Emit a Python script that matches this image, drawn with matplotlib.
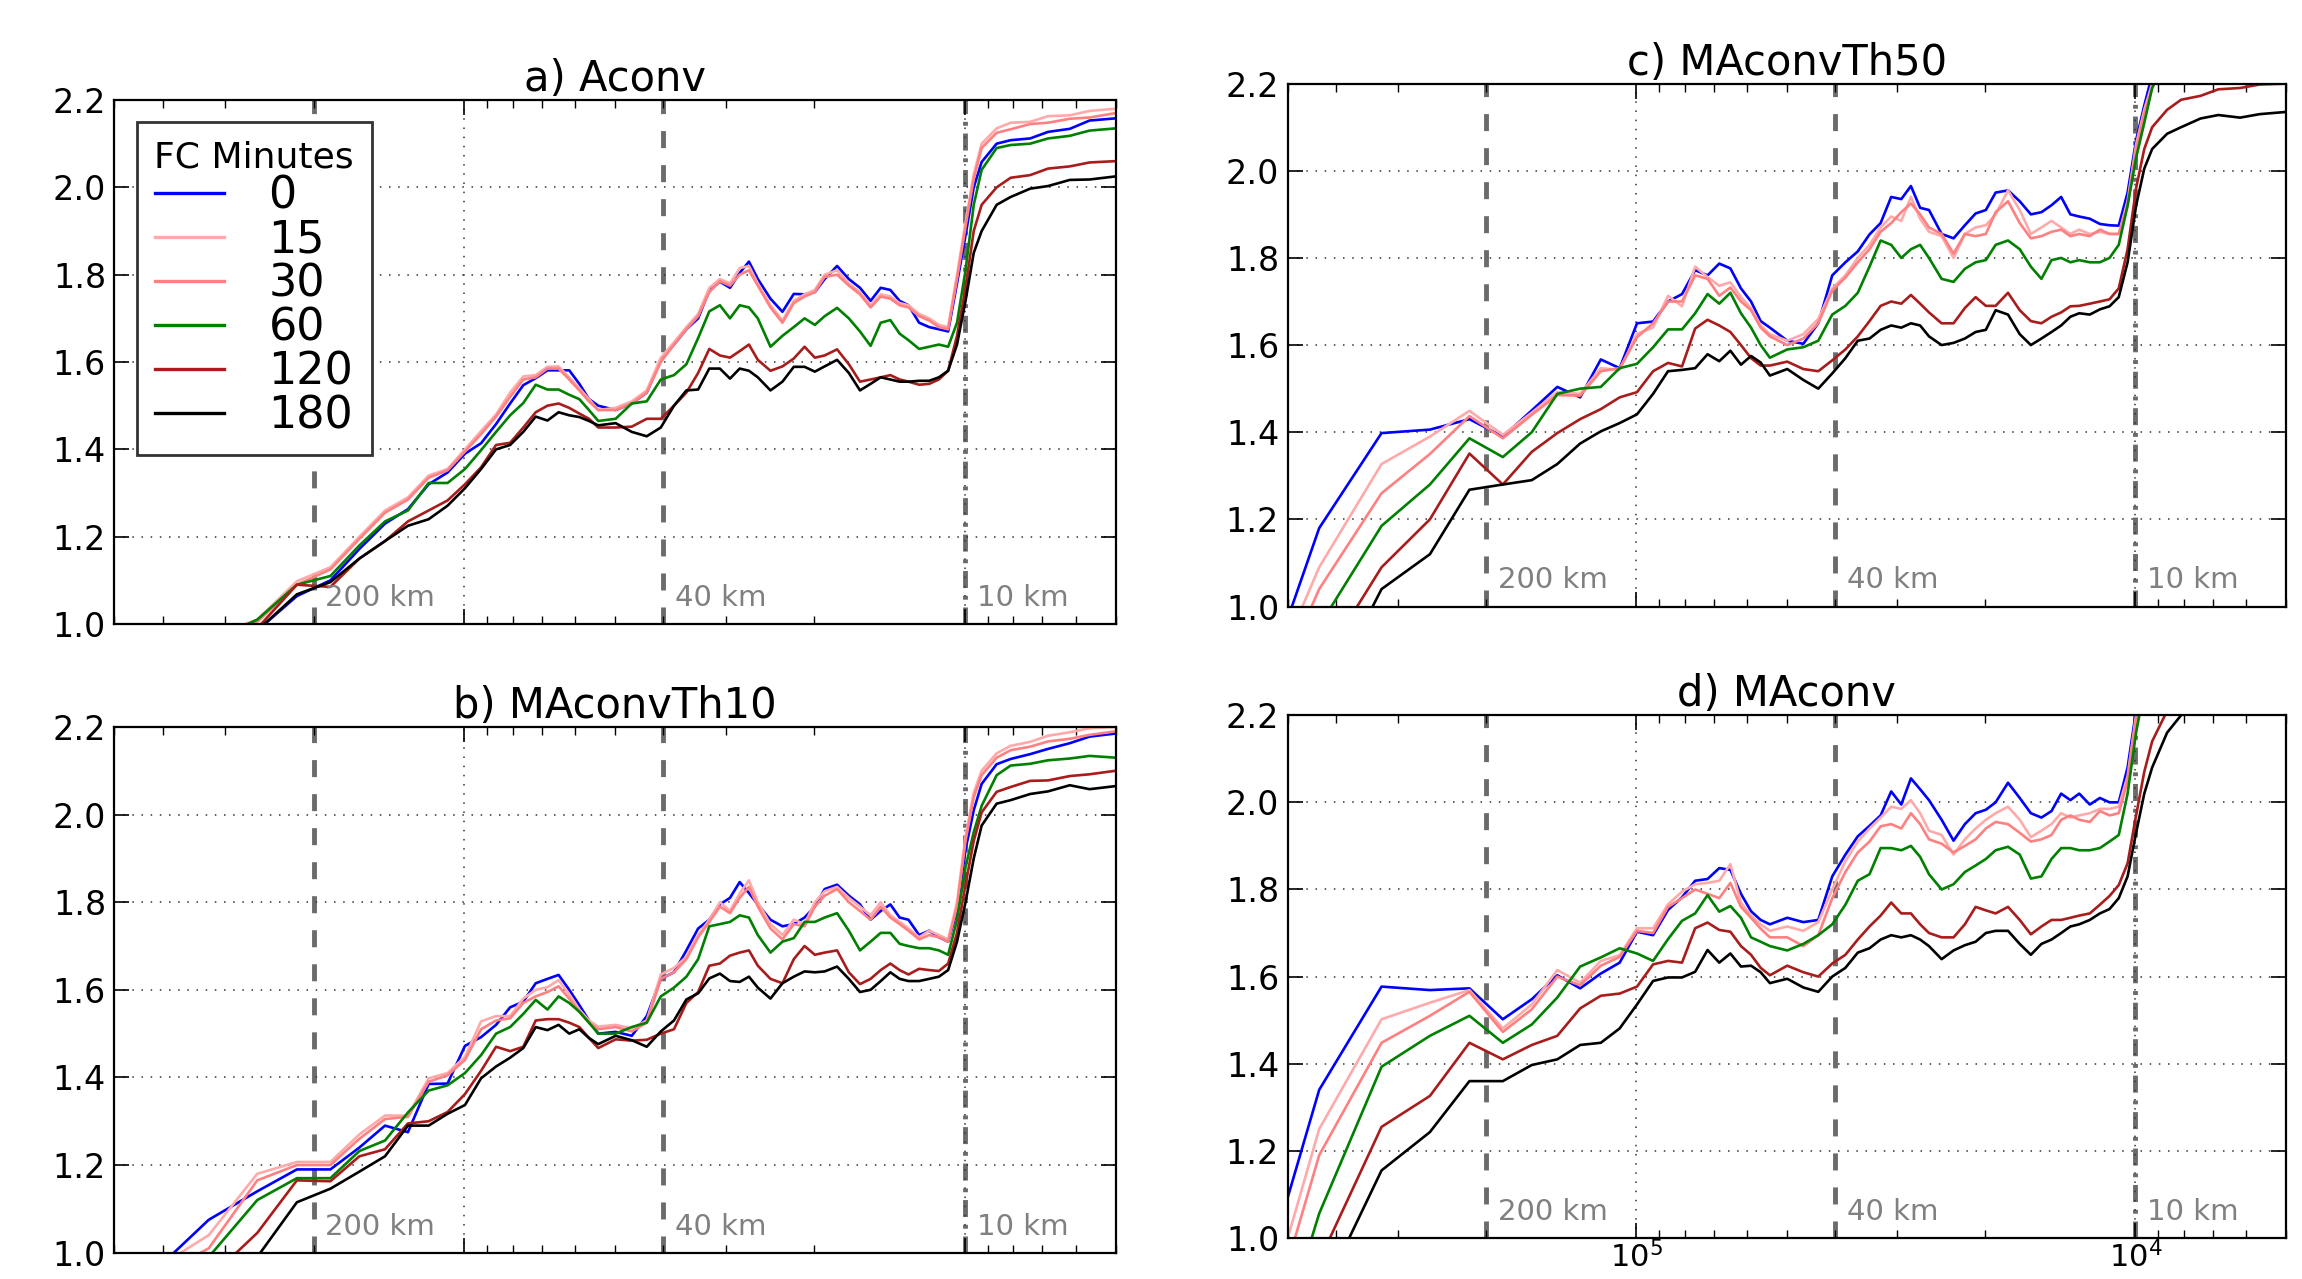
import numpy as np
import matplotlib
matplotlib.use("Agg")
import matplotlib.pyplot as plt
from matplotlib.ticker import NullFormatter

# --- data -------------------------------------------------------------
# spectral wavenumber index (domain of 1296 km -> wavelength = 1296 km / k)
wavenumber = [2, 3, 4, 5, 6, 7, 8, 9, 10, 11, 12, 13, 14, 15, 16, 17, 18, 19, 20, 21, 22, 23, 24,
              26, 28, 30, 32, 34, 36, 38, 40, 42, 44, 46, 48, 50,
              53, 56, 59, 62, 65, 68,
              72, 76, 80, 84, 88, 92, 96, 100,
              105, 110, 115, 120, 125, 130, 135, 140,
              150, 160, 175, 190, 210, 230, 259]
domain_km = 1296.0

fc_minutes = ["0", "15", "30", "60", "120", "180"]
line_colors = ["#0000ff", "#ffaaaa", "#ff8080", "#008000", "#a81c1c", "#000000"]
panel_titles = ["a) Aconv", "b) MAconvTh10", "c) MAconvTh50", "d) MAconv"]

y_ticks = [1.0, 1.2, 1.4, 1.6, 1.8, 2.0, 2.2]
scale_marks_km = [200, 40, 10]
scale_labels = ["200 km", "40 km", "10 km"]

# a) Aconv
aconv_0 = [0.80, 0.88, 0.94, 0.985, 1.064, 1.10, 1.172, 1.23, 1.263, 1.32, 1.347, 1.39, 1.414, 1.458, 1.505, 1.547, 1.563, 1.581, 1.581, 1.581, 1.55, 1.515, 1.50,
           1.49, 1.505, 1.53, 1.605, 1.64, 1.675, 1.70, 1.764, 1.784, 1.77, 1.804, 1.83, 1.79,
           1.745, 1.715, 1.756, 1.755, 1.76, 1.79,
           1.82, 1.79, 1.77, 1.74, 1.77, 1.765, 1.74, 1.73,
           1.69, 1.68, 1.675, 1.67, 1.78, 1.89, 2.00, 2.058,
           2.10, 2.108, 2.112, 2.127, 2.134, 2.153, 2.158]
aconv_15 = [0.85, 0.92, 0.97, 1.01, 1.098, 1.13, 1.20, 1.26, 1.29, 1.34, 1.355, 1.40, 1.442, 1.48, 1.53, 1.567, 1.57, 1.589, 1.59, 1.565, 1.54, 1.515, 1.49,
            1.495, 1.51, 1.535, 1.61, 1.645, 1.68, 1.71, 1.77, 1.79, 1.78, 1.815, 1.82, 1.78,
            1.73, 1.695, 1.74, 1.755, 1.765, 1.80,
            1.81, 1.78, 1.76, 1.73, 1.755, 1.75, 1.735, 1.73,
            1.71, 1.70, 1.685, 1.68, 1.80, 1.92, 2.03, 2.10,
            2.135, 2.148, 2.15, 2.163, 2.165, 2.175, 2.18]
aconv_30 = [0.84, 0.91, 0.965, 1.005, 1.09, 1.125, 1.195, 1.255, 1.285, 1.335, 1.352, 1.395, 1.435, 1.475, 1.52, 1.56, 1.565, 1.585, 1.585, 1.56, 1.535, 1.51, 1.49,
            1.49, 1.505, 1.53, 1.60, 1.64, 1.675, 1.705, 1.76, 1.785, 1.775, 1.80, 1.81, 1.775,
            1.725, 1.69, 1.735, 1.75, 1.76, 1.795,
            1.80, 1.775, 1.755, 1.725, 1.75, 1.745, 1.73, 1.725,
            1.705, 1.695, 1.68, 1.675, 1.79, 1.91, 2.02, 2.09,
            2.125, 2.133, 2.145, 2.148, 2.157, 2.16, 2.17]
aconv_60 = [0.84, 0.91, 0.96, 1.01, 1.09, 1.11, 1.18, 1.235, 1.26, 1.323, 1.323, 1.355, 1.398, 1.44, 1.478, 1.506, 1.548, 1.537, 1.537, 1.525, 1.515, 1.49, 1.465,
            1.47, 1.505, 1.51, 1.56, 1.57, 1.595, 1.655, 1.716, 1.73, 1.70, 1.73, 1.725, 1.70,
            1.635, 1.66, 1.68, 1.70, 1.685, 1.705,
            1.724, 1.70, 1.67, 1.637, 1.69, 1.696, 1.665, 1.65,
            1.63, 1.635, 1.64, 1.635, 1.69, 1.81, 1.96, 2.04,
            2.09, 2.097, 2.10, 2.112, 2.118, 2.13, 2.135]
aconv_120 = [0.82, 0.90, 0.95, 0.99, 1.09, 1.085, 1.15, 1.19, 1.235, 1.26, 1.283, 1.32, 1.359, 1.41, 1.415, 1.45, 1.485, 1.50, 1.505, 1.495, 1.482, 1.47, 1.45,
             1.45, 1.452, 1.47, 1.47, 1.50, 1.53, 1.575, 1.63, 1.615, 1.61, 1.625, 1.64, 1.605,
             1.58, 1.59, 1.608, 1.635, 1.61, 1.615,
             1.629, 1.595, 1.555, 1.56, 1.565, 1.57, 1.56, 1.555,
             1.548, 1.55, 1.56, 1.58, 1.66, 1.77, 1.90, 1.96,
             2.00, 2.022, 2.028, 2.043, 2.048, 2.057, 2.06]
aconv_180 = [0.80, 0.88, 0.94, 0.985, 1.068, 1.096, 1.15, 1.19, 1.225, 1.24, 1.271, 1.311, 1.355, 1.40, 1.41, 1.44, 1.475, 1.466, 1.485, 1.478, 1.474, 1.465, 1.455,
             1.46, 1.44, 1.43, 1.45, 1.50, 1.535, 1.537, 1.585, 1.585, 1.562, 1.585, 1.58, 1.565,
             1.535, 1.555, 1.589, 1.589, 1.578, 1.59,
             1.605, 1.575, 1.535, 1.55, 1.565, 1.56, 1.555, 1.555,
             1.557, 1.557, 1.565, 1.58, 1.64, 1.74, 1.85, 1.90,
             1.96, 1.978, 1.997, 2.003, 2.017, 2.018, 2.025]

# b) MAconvTh10
th10_0 = [0.80, 0.94, 1.075, 1.14, 1.19, 1.19, 1.24, 1.29, 1.275, 1.385, 1.386, 1.472, 1.492, 1.52, 1.56, 1.573, 1.615, 1.625, 1.634, 1.60, 1.565, 1.53, 1.50,
          1.504, 1.495, 1.54, 1.625, 1.64, 1.69, 1.74, 1.76, 1.795, 1.81, 1.846, 1.821, 1.795,
          1.76, 1.745, 1.75, 1.765, 1.79, 1.83,
          1.84, 1.815, 1.795, 1.76, 1.78, 1.795, 1.765, 1.76,
          1.725, 1.735, 1.72, 1.71, 1.78, 1.92, 2.01, 2.07,
          2.115, 2.127, 2.138, 2.15, 2.163, 2.178, 2.185]
th10_15 = [0.82, 0.95, 1.04, 1.18, 1.207, 1.207, 1.27, 1.313, 1.313, 1.398, 1.41, 1.447, 1.528, 1.54, 1.54, 1.58, 1.60, 1.606, 1.622, 1.59, 1.555, 1.53, 1.516,
           1.52, 1.512, 1.53, 1.635, 1.65, 1.675, 1.725, 1.76, 1.80, 1.78, 1.82, 1.85, 1.80,
           1.75, 1.725, 1.76, 1.75, 1.80, 1.825,
           1.835, 1.81, 1.79, 1.77, 1.80, 1.77, 1.755, 1.74,
           1.72, 1.735, 1.725, 1.715, 1.80, 1.95, 2.05, 2.10,
           2.14, 2.157, 2.166, 2.18, 2.188, 2.197, 2.20]
th10_30 = [0.80, 0.93, 1.01, 1.165, 1.20, 1.20, 1.26, 1.305, 1.31, 1.39, 1.405, 1.44, 1.51, 1.53, 1.535, 1.57, 1.585, 1.595, 1.608, 1.58, 1.55, 1.525, 1.51,
           1.515, 1.505, 1.525, 1.625, 1.64, 1.67, 1.72, 1.755, 1.79, 1.775, 1.81, 1.835, 1.79,
           1.74, 1.715, 1.75, 1.745, 1.79, 1.815,
           1.83, 1.80, 1.78, 1.76, 1.79, 1.765, 1.75, 1.735,
           1.715, 1.725, 1.72, 1.71, 1.79, 1.94, 2.04, 2.09,
           2.13, 2.147, 2.155, 2.167, 2.173, 2.182, 2.19]
th10_60 = [0.75, 0.88, 0.99, 1.12, 1.17, 1.17, 1.232, 1.256, 1.32, 1.37, 1.382, 1.41, 1.451, 1.50, 1.515, 1.545, 1.577, 1.555, 1.585, 1.57, 1.55, 1.525, 1.50,
           1.50, 1.515, 1.525, 1.585, 1.605, 1.63, 1.67, 1.745, 1.75, 1.755, 1.77, 1.765, 1.725,
           1.685, 1.71, 1.718, 1.755, 1.755, 1.765,
           1.775, 1.735, 1.69, 1.71, 1.73, 1.73, 1.705, 1.70,
           1.695, 1.695, 1.69, 1.68, 1.76, 1.88, 1.96, 2.02,
           2.09, 2.112, 2.116, 2.124, 2.128, 2.134, 2.13]
th10_120 = [0.70, 0.84, 0.94, 1.045, 1.165, 1.163, 1.22, 1.236, 1.295, 1.30, 1.321, 1.362, 1.415, 1.47, 1.46, 1.47, 1.53, 1.533, 1.533, 1.525, 1.515, 1.49, 1.467,
            1.487, 1.484, 1.486, 1.50, 1.51, 1.57, 1.595, 1.655, 1.66, 1.678, 1.685, 1.69, 1.655,
            1.625, 1.615, 1.67, 1.70, 1.68, 1.685,
            1.69, 1.64, 1.613, 1.625, 1.645, 1.66, 1.645, 1.635,
            1.648, 1.645, 1.643, 1.66, 1.73, 1.84, 1.94, 2.005,
            2.052, 2.063, 2.077, 2.078, 2.088, 2.092, 2.10]
th10_180 = [0.70, 0.82, 0.92, 0.99, 1.115, 1.146, 1.185, 1.22, 1.29, 1.29, 1.317, 1.337, 1.398, 1.425, 1.445, 1.467, 1.515, 1.508, 1.52, 1.50, 1.51, 1.49, 1.476,
            1.495, 1.485, 1.47, 1.505, 1.53, 1.578, 1.592, 1.626, 1.637, 1.62, 1.618, 1.63, 1.605,
            1.58, 1.615, 1.63, 1.642, 1.64, 1.642,
            1.653, 1.625, 1.595, 1.60, 1.62, 1.64, 1.625, 1.62,
            1.62, 1.625, 1.63, 1.645, 1.71, 1.80, 1.90, 1.975,
            2.025, 2.033, 2.047, 2.053, 2.067, 2.058, 2.065]

# c) MAconvTh50
th50_0 = [0.60, 1.18, 1.398, 1.406, 1.43, 1.39, 1.45, 1.504, 1.48, 1.567, 1.547, 1.65, 1.654, 1.70, 1.717, 1.772, 1.76, 1.787, 1.776, 1.73, 1.70, 1.655, 1.64,
          1.61, 1.603, 1.65, 1.76, 1.79, 1.815, 1.854, 1.88, 1.94, 1.935, 1.965, 1.915, 1.91,
          1.855, 1.845, 1.875, 1.902, 1.91, 1.95,
          1.955, 1.93, 1.90, 1.905, 1.921, 1.94, 1.90, 1.895,
          1.89, 1.878, 1.875, 1.874, 1.95, 2.07, 2.15, 2.22,
          2.28, 2.31, 2.32, 2.33, 2.34, 2.35, 2.36]
th50_15 = [0.62, 1.09, 1.327, 1.39, 1.449, 1.394, 1.445, 1.492, 1.488, 1.547, 1.543, 1.626, 1.64, 1.713, 1.689, 1.78, 1.756, 1.736, 1.744, 1.71, 1.685, 1.645, 1.625,
           1.61, 1.625, 1.66, 1.73, 1.76, 1.80, 1.83, 1.87, 1.895, 1.885, 1.94, 1.89, 1.86,
           1.85, 1.80, 1.855, 1.87, 1.875, 1.90,
           1.955, 1.91, 1.855, 1.87, 1.885, 1.87, 1.855, 1.865,
           1.855, 1.86, 1.855, 1.855, 1.93, 2.06, 2.14, 2.20,
           2.27, 2.30, 2.31, 2.32, 2.33, 2.34, 2.35]
th50_30 = [0.58, 1.04, 1.26, 1.35, 1.437, 1.386, 1.44, 1.485, 1.484, 1.54, 1.547, 1.618, 1.65, 1.70, 1.70, 1.76, 1.752, 1.713, 1.732, 1.70, 1.68, 1.64, 1.62,
           1.60, 1.615, 1.65, 1.725, 1.755, 1.79, 1.82, 1.86, 1.88, 1.905, 1.925, 1.90, 1.87,
           1.855, 1.81, 1.855, 1.85, 1.855, 1.905,
           1.93, 1.88, 1.845, 1.85, 1.86, 1.865, 1.85, 1.855,
           1.85, 1.865, 1.855, 1.855, 1.92, 2.05, 2.13, 2.19,
           2.27, 2.30, 2.31, 2.32, 2.33, 2.34, 2.35]
th50_60 = [0.45, 0.955, 1.185, 1.28, 1.386, 1.343, 1.40, 1.488, 1.50, 1.504, 1.547, 1.557, 1.595, 1.636, 1.636, 1.673, 1.717, 1.695, 1.72, 1.673, 1.64, 1.60, 1.571,
           1.59, 1.595, 1.61, 1.67, 1.69, 1.72, 1.78, 1.84, 1.83, 1.80, 1.82, 1.83, 1.80,
           1.752, 1.745, 1.775, 1.79, 1.795, 1.83,
           1.84, 1.82, 1.78, 1.752, 1.795, 1.80, 1.79, 1.795,
           1.79, 1.79, 1.80, 1.83, 1.92, 2.03, 2.11, 2.19,
           2.26, 2.30, 2.31, 2.32, 2.33, 2.34, 2.35]
th50_120 = [0.40, 0.86, 1.09, 1.20, 1.351, 1.28, 1.355, 1.398, 1.43, 1.453, 1.48, 1.492, 1.54, 1.559, 1.551, 1.638, 1.658, 1.645, 1.63, 1.60, 1.57, 1.553, 1.553,
            1.562, 1.545, 1.54, 1.565, 1.59, 1.62, 1.655, 1.69, 1.70, 1.695, 1.715, 1.695, 1.675,
            1.65, 1.65, 1.685, 1.71, 1.69, 1.69,
            1.72, 1.68, 1.655, 1.65, 1.665, 1.675, 1.689, 1.69,
            1.695, 1.70, 1.705, 1.73, 1.82, 1.96, 2.05, 2.10,
            2.14, 2.163, 2.172, 2.187, 2.19, 2.198, 2.20]
th50_180 = [0.30, 0.76, 1.04, 1.12, 1.268, 1.28, 1.29, 1.327, 1.374, 1.402, 1.421, 1.441, 1.488, 1.54, 1.543, 1.547, 1.579, 1.563, 1.587, 1.555, 1.575, 1.56, 1.53,
            1.545, 1.52, 1.50, 1.535, 1.57, 1.61, 1.615, 1.635, 1.645, 1.64, 1.65, 1.645, 1.62,
            1.60, 1.605, 1.615, 1.63, 1.635, 1.68,
            1.67, 1.625, 1.60, 1.615, 1.63, 1.645, 1.665, 1.673,
            1.67, 1.682, 1.689, 1.71, 1.79, 1.92, 2.005, 2.05,
            2.085, 2.10, 2.12, 2.128, 2.122, 2.13, 2.135]

# d) MAconv
maconv_0 = [0.65, 1.34, 1.577, 1.569, 1.573, 1.502, 1.548, 1.603, 1.573, 1.607, 1.632, 1.703, 1.695, 1.753, 1.782, 1.82, 1.824, 1.849, 1.845, 1.79, 1.75, 1.73, 1.72,
            1.735, 1.725, 1.73, 1.83, 1.88, 1.922, 1.946, 1.97, 2.025, 1.995, 2.055, 2.03, 2.005,
            1.96, 1.912, 1.95, 1.975, 1.983, 2.00,
            2.045, 2.01, 1.975, 1.965, 1.98, 2.02, 2.005, 2.02,
            1.995, 2.01, 2.00, 2.00, 2.08, 2.21, 2.30, 2.36,
            2.42, 2.45, 2.47, 2.48, 2.49, 2.50, 2.51]
maconv_15 = [0.55, 1.25, 1.502, 1.54, 1.569, 1.481, 1.536, 1.615, 1.586, 1.636, 1.649, 1.711, 1.711, 1.766, 1.795, 1.812, 1.815, 1.82, 1.858, 1.77, 1.74, 1.72, 1.705,
             1.715, 1.705, 1.725, 1.80, 1.865, 1.91, 1.94, 1.965, 1.99, 1.985, 2.005, 1.975, 1.935,
             1.925, 1.88, 1.915, 1.94, 1.96, 1.975,
             1.99, 1.96, 1.92, 1.935, 1.95, 1.975, 1.965, 1.97,
             1.975, 1.985, 1.985, 1.99, 2.06, 2.20, 2.29, 2.35,
             2.41, 2.44, 2.46, 2.47, 2.48, 2.49, 2.50]
maconv_30 = [0.50, 1.19, 1.448, 1.51, 1.565, 1.473, 1.525, 1.60, 1.58, 1.625, 1.645, 1.705, 1.70, 1.76, 1.78, 1.80, 1.79, 1.78, 1.815, 1.76, 1.735, 1.71, 1.69,
             1.69, 1.67, 1.695, 1.78, 1.84, 1.885, 1.91, 1.945, 1.95, 1.94, 1.975, 1.95, 1.915,
             1.905, 1.885, 1.90, 1.915, 1.94, 1.955,
             1.95, 1.93, 1.91, 1.915, 1.925, 1.96, 1.97, 1.96,
             1.955, 1.98, 1.97, 1.975, 2.05, 2.19, 2.28, 2.34,
             2.40, 2.43, 2.45, 2.46, 2.47, 2.48, 2.49]
maconv_60 = [0.40, 1.056, 1.393, 1.464, 1.51, 1.448, 1.49, 1.552, 1.623, 1.644, 1.665, 1.653, 1.636, 1.686, 1.728, 1.745, 1.787, 1.749, 1.762, 1.735, 1.69, 1.68, 1.67,
             1.66, 1.675, 1.695, 1.72, 1.765, 1.82, 1.835, 1.895, 1.895, 1.89, 1.90, 1.875, 1.835,
             1.80, 1.812, 1.84, 1.855, 1.87, 1.89,
             1.898, 1.88, 1.825, 1.83, 1.87, 1.895, 1.895, 1.89,
             1.89, 1.895, 1.91, 1.925, 2.02, 2.16, 2.26, 2.32,
             2.38, 2.41, 2.43, 2.44, 2.45, 2.46, 2.47]
maconv_120 = [0.30, 0.947, 1.255, 1.326, 1.448, 1.41, 1.443, 1.464, 1.527, 1.556, 1.561, 1.577, 1.628, 1.636, 1.632, 1.711, 1.724, 1.707, 1.703, 1.67, 1.65, 1.62, 1.603,
              1.625, 1.61, 1.60, 1.63, 1.65, 1.685, 1.715, 1.74, 1.77, 1.745, 1.745, 1.72, 1.70,
              1.69, 1.69, 1.72, 1.76, 1.752, 1.745,
              1.76, 1.73, 1.697, 1.715, 1.73, 1.73, 1.735, 1.74,
              1.745, 1.765, 1.785, 1.81, 1.86, 1.97, 2.07, 2.14,
              2.21, 2.24, 2.26, 2.27, 2.28, 2.29, 2.30]
maconv_180 = [0.20, 0.856, 1.155, 1.243, 1.36, 1.36, 1.397, 1.41, 1.443, 1.448, 1.481, 1.536, 1.59, 1.598, 1.598, 1.611, 1.661, 1.632, 1.653, 1.623, 1.625, 1.61, 1.585,
              1.595, 1.575, 1.565, 1.60, 1.62, 1.655, 1.665, 1.685, 1.695, 1.69, 1.695, 1.685, 1.67,
              1.64, 1.66, 1.672, 1.68, 1.70, 1.705,
              1.705, 1.675, 1.65, 1.675, 1.685, 1.70, 1.715, 1.72,
              1.73, 1.745, 1.755, 1.78, 1.83, 1.93, 2.02, 2.08,
              2.16, 2.20, 2.22, 2.23, 2.24, 2.245, 2.25]


def dibujar_panel(ax, titulo, series, show_xlabels):
    wavelength_m = domain_km * 1000.0 / np.array(wavenumber, dtype=float)

    for valores, etiqueta, color in zip(series, fc_minutes, line_colors):
        ax.plot(wavelength_m, valores, color=color, lw=1.9, label=etiqueta)

    ax.set_xscale("log")
    ax.set_xlim(5e5, 5e3)  # large scales on the left
    ax.set_ylim(1.0, 2.2)
    ax.set_yticks(y_ticks)

    # reference scales
    for km, texto in zip(scale_marks_km, scale_labels):
        estilo = (0, (3.5, 1.6, 0.8, 1.6)) if km == 10 else (0, (3.5, 3.5))
        ax.axvline(km * 1000.0, color="0.42", lw=3.5, linestyle=estilo, zorder=1)
        ax.annotate(texto, xy=(km * 1000.0, 0.0), xycoords=("data", "axes fraction"),
                    xytext=(8.5, 13), textcoords="offset points",
                    fontsize=21, color="0.5", ha="left", va="baseline")

    ax.grid(True, which="major", color="0.2", linestyle=(0, (1, 5)), linewidth=1.1)
    ax.tick_params(which="both", direction="in", top=True, right=True, labelsize=24)
    ax.tick_params(which="major", length=11, width=1.2)
    ax.tick_params(which="minor", length=6, width=1.0)
    ax.tick_params(axis="y", pad=6)
    ax.xaxis.set_minor_formatter(NullFormatter())
    if show_xlabels:
        ax.tick_params(axis="x", pad=2, labelsize=22)
    else:
        ax.tick_params(axis="x", labelbottom=False)

    for spine in ax.spines.values():
        spine.set_linewidth(1.6)

    ax.set_title(titulo, fontsize=30, pad=4)


def generar_grafico():
    fig = plt.figure(figsize=(23.02, 12.79), dpi=100)

    cajas = [
        [0.0497, 0.5121, 0.4349, 0.4097],
        [0.0497, 0.0206, 0.4349, 0.4110],
        [0.5593, 0.5258, 0.4336, 0.4088],
        [0.5593, 0.0321, 0.4336, 0.4087],
    ]
    paneles = [
        [aconv_0, aconv_15, aconv_30, aconv_60, aconv_120, aconv_180],
        [th10_0, th10_15, th10_30, th10_60, th10_120, th10_180],
        [th50_0, th50_15, th50_30, th50_60, th50_120, th50_180],
        [maconv_0, maconv_15, maconv_30, maconv_60, maconv_120, maconv_180],
    ]

    axes = []
    for i, (caja, series, titulo) in enumerate(zip(cajas, paneles, panel_titles)):
        ax = fig.add_axes(caja)
        dibujar_panel(ax, titulo, series, show_xlabels=(i == 3))
        axes.append(ax)

    leyenda = axes[0].legend(title="FC Minutes", loc="upper left", fontsize=32,
                             title_fontsize=26, fancybox=False, framealpha=1,
                             edgecolor="0.2", borderpad=0.4, labelspacing=0.02,
                             handlelength=1.55, handletextpad=1.0, borderaxespad=0.5)
    leyenda.get_frame().set_linewidth(2.0)
    for linea in leyenda.get_lines():
        linea.set_linewidth(2.4)

    fig.savefig("out.png", dpi=100)


if __name__ == "__main__":
    generar_grafico()
